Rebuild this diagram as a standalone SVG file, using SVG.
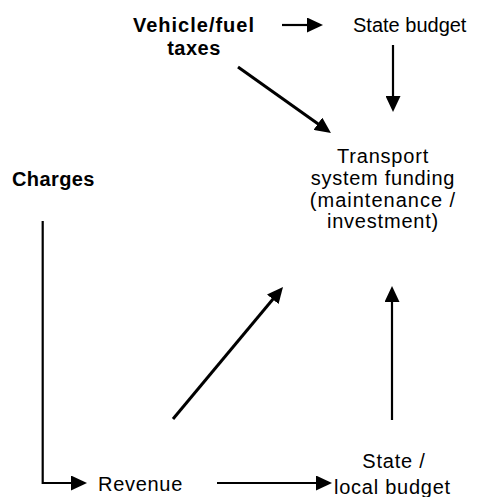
<svg xmlns="http://www.w3.org/2000/svg" width="478" height="497" viewBox="0 0 478 497">
  <defs>
    <marker id="ah" viewBox="0 0 16 15" refX="6" refY="7.5" markerWidth="16" markerHeight="15" orient="auto" markerUnits="userSpaceOnUse">
      <path d="M0,0 L16,7.5 L0,15 z" fill="#000"/>
    </marker>
    <style>
      text { font-family: "Liberation Sans", Arial, sans-serif; font-size: 20px; fill: #000; }
      .b { font-weight: bold; }
      .c { text-anchor: middle; }
      .edge { fill: none; stroke: #000; stroke-width: 2.2; }
      .thick { stroke-width: 3; }
      .arrow { marker-end: url(#ah); }
    </style>
  </defs>
  <rect width="478" height="497" fill="#fff"/>

  <g id="connectors">
    <!-- taxes to state budget -->
    <path class="edge arrow" d="M282,25 H313"/>
    <!-- taxes straight to funding -->
    <path class="edge thick arrow" d="M238,67 L322.8,127.2"/>
    <!-- state budget down to funding -->
    <path class="edge arrow" d="M393,45 V102"/>
    <!-- charges elbow into revenue -->
    <path class="edge arrow" d="M42.7,221 V483 H77"/>
    <!-- revenue to state / local budget -->
    <path class="edge arrow" d="M217,483 H322"/>
    <!-- revenue to funding -->
    <path class="edge thick arrow" d="M173,419 L276.6,294.7"/>
    <!-- state / local budget up to funding -->
    <path class="edge arrow" d="M392,420 V296"/>
  </g>

  <g id="vehicle-fuel-taxes">
    <text class="b c" x="194" y="32" letter-spacing="1">Vehicle/fuel</text>
    <text class="b c" x="194" y="55" letter-spacing="0.5">taxes</text>
  </g>

  <g id="state-budget">
    <text x="353" y="32">State budget</text>
  </g>

  <g id="transport-funding">
    <text class="c" x="383" y="163" letter-spacing="0.8">Transport</text>
    <text class="c" x="383" y="185" letter-spacing="0.7">system funding</text>
    <text class="c" x="383" y="207" letter-spacing="1">(maintenance /</text>
    <text class="c" x="383" y="228" letter-spacing="0.8">investment)</text>
  </g>

  <g id="charges">
    <text class="b" x="12" y="186" letter-spacing="0.4">Charges</text>
  </g>

  <g id="revenue">
    <text x="98" y="491" letter-spacing="0.7">Revenue</text>
  </g>

  <g id="state-local-budget">
    <text class="c" x="394" y="468" letter-spacing="0.8">State /</text>
    <text x="334" y="494" letter-spacing="0.75">local budget</text>
  </g>
</svg>
